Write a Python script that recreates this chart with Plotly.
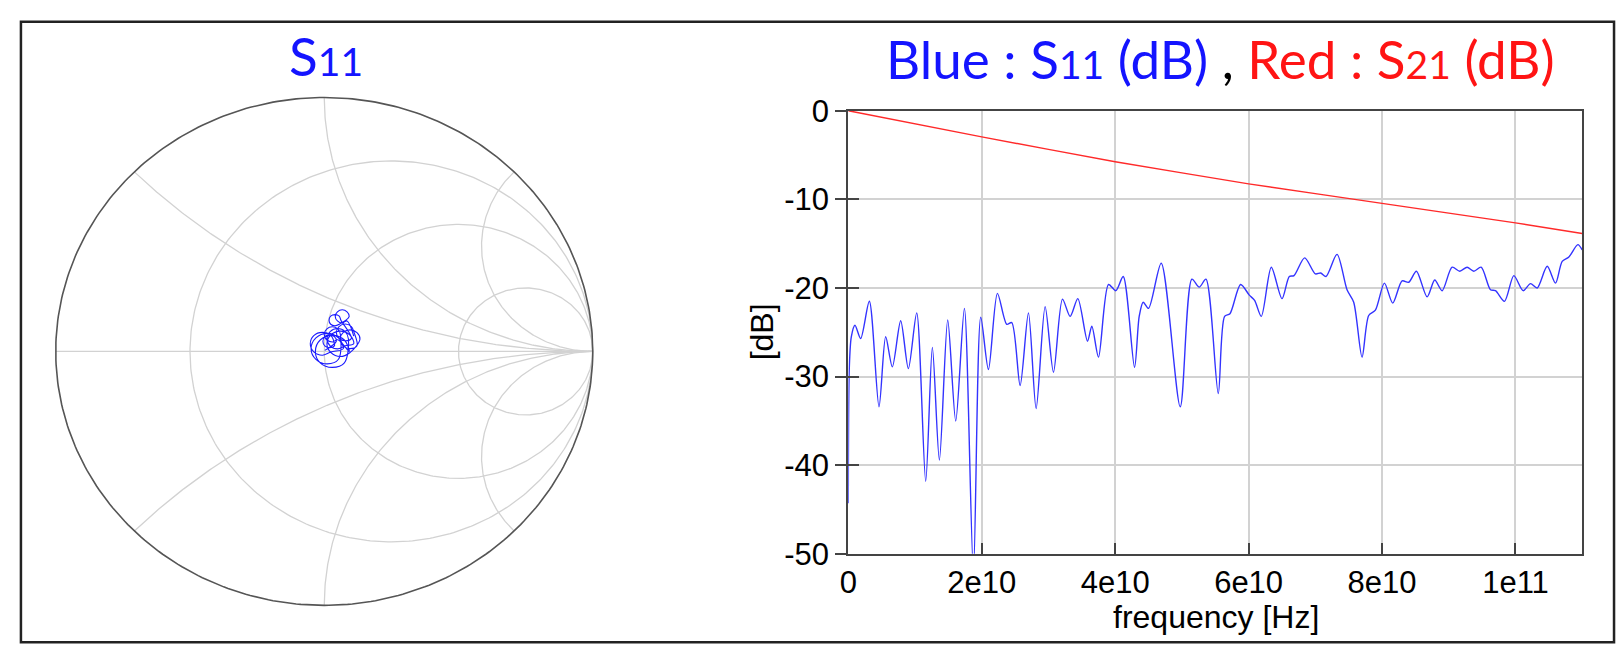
import numpy as np
import plotly.graph_objects as go

W, H = 1620, 665

# ---------------- data ----------------
# S11 magnitude (dB) vs frequency (GHz)
s11_f_ghz = [0.0, 0.15, 0.45, 1.0, 1.85, 3.15, 4.6, 5.6, 6.6, 7.85, 9.0, 10.25, 11.6, 12.6, 13.65,
             14.9, 16.1, 17.4, 18.75, 19.85, 21.0, 22.35, 23.75, 24.5, 25.75, 27.0, 28.15, 29.5,
             30.75, 32.1, 33.25, 34.4, 35.85, 36.5, 37.5, 39.0, 40.1, 41.2, 42.9, 43.6, 44.2, 45.0,
             46.9, 49.75, 51.5, 52.6, 53.6, 55.45, 56.4, 57.2, 58.8, 60.1, 60.9, 61.9, 63.4, 65.0,
             66.1, 66.8, 68.4, 70.0, 70.8, 71.6, 73.25, 74.75, 75.75, 77.0, 78.0, 79.0, 80.35, 81.6,
             83.0, 84.0, 85.15, 86.75, 87.9, 89.0, 90.5, 91.65, 92.75, 93.75, 94.85, 96.25, 97.0,
             98.35, 99.75, 101.15, 102.25, 103.25, 104.75, 106.0, 107.0, 108.0, 109.35, 110.0]
s11_db = [-44.3, -29.0, -25.5, -24.2, -25.7, -21.5, -33.4, -25.5, -28.9, -23.7, -29.1, -22.8, -41.8,
          -26.7, -39.4, -23.6, -35.0, -22.3, -52.0, -23.3, -29.2, -20.6, -24.1, -23.9, -31.0, -22.8,
          -33.6, -22.1, -29.5, -21.25, -23.2, -21.2, -26.0, -24.3, -27.8, -19.6, -20.3, -18.7, -28.95,
          -23.2, -21.6, -22.3, -17.2, -33.4, -19.0, -19.9, -19.0, -31.9, -23.2, -22.9, -19.6, -20.8,
          -21.4, -23.2, -17.65, -21.2, -18.7, -18.6, -16.6, -18.4, -18.3, -18.7, -16.2, -20.2, -21.6,
          -27.8, -23.1, -22.5, -19.45, -21.7, -19.2, -19.35, -18.1, -21.0, -19.1, -20.3, -17.65, -18.1,
          -17.65, -18.1, -17.65, -20.2, -20.3, -21.5, -18.6, -20.3, -19.5, -20.0, -17.55, -19.45,
          -17.0, -16.5, -15.1, -15.7]

# S21 magnitude (dB) vs frequency (GHz)
s21_f_ghz = [0, 10, 20, 30, 40, 50, 60, 70, 80, 90, 100, 110]
s21_db = [0.0, -1.5, -2.95, -4.35, -5.75, -7.0, -8.25, -9.35, -10.45, -11.55, -12.65, -13.85]

# S11 trajectory on the Smith chart (reflection coefficient, real / imaginary)
gamma_re = [0.002,
            0.045, 0.038, 0.02, 0.002, -0.005, 0.002, 0.02, 0.038,
            0.038, 0.025, -0.007, -0.039, -0.052, -0.039, -0.007, 0.025,
            0.071, 0.053, 0.011, -0.031, -0.049, -0.031, 0.011, 0.053,
            0.06, 0.051, 0.03, 0.009, 0.0, 0.009, 0.03, 0.051,
            0.093, 0.075, 0.03, -0.015, -0.033, -0.015, 0.03, 0.075,
            0.09, 0.078, 0.05, 0.022, 0.01, 0.022, 0.05, 0.078,
            0.11, 0.095, 0.06, 0.025, 0.01, 0.025, 0.06, 0.095,
            0.133, 0.122, 0.096, 0.07, 0.059, 0.07, 0.096, 0.122,
            0.111, 0.101, 0.078, 0.055, 0.045, 0.055, 0.078, 0.101,
            0.062, 0.056, 0.04, 0.024, 0.018, 0.024, 0.04, 0.056,
            0.093, 0.085, 0.067, 0.049, 0.041, 0.049, 0.067, 0.085,
            0.11]
gamma_im = [0.004,
            0.04, 0.058, 0.065, 0.058, 0.04, 0.022, 0.015, 0.022,
            0.03, 0.062, 0.075, 0.062, 0.03, -0.002, -0.015, -0.002,
            0.011, 0.053, 0.071, 0.053, 0.011, -0.031, -0.049, -0.031,
            0.067, 0.088, 0.097, 0.088, 0.067, 0.046, 0.037, 0.046,
            0.0, 0.045, 0.063, 0.045, 0.0, -0.045, -0.063, -0.045,
            0.05, 0.078, 0.09, 0.078, 0.05, 0.022, 0.01, 0.022,
            0.03, 0.065, 0.08, 0.065, 0.03, -0.005, -0.02, -0.005,
            0.048, 0.074, 0.085, 0.074, 0.048, 0.022, 0.011, 0.022,
            0.075, 0.098, 0.108, 0.098, 0.075, 0.052, 0.042, 0.052,
            0.123, 0.139, 0.145, 0.139, 0.123, 0.107, 0.101, 0.107,
            0.138, 0.156, 0.164, 0.156, 0.138, 0.12, 0.112, 0.12,
            0.06]

# Smith chart grid values
smith_r = [1 / 3, 1.0, 3.0]
smith_x = [np.sqrt(2) - 1, 1.0, np.sqrt(2) + 1]

x_tickvals = [0, 2e10, 4e10, 6e10, 8e10, 1e11]
x_ticktext = ["0", "2e10", "4e10", "6e10", "8e10", "1e11"]
y_tickvals = [-50, -40, -30, -20, -10, 0]
y_ticktext = ["-50", "-40", "-30", "-20", "-10", "0"]

# ---------------- figure ----------------
def px_x(p):
    return p / W


def px_y(p):
    return (H - p) / H


fig = go.Figure()

grid_col = "#d2d2d2"
t = np.linspace(0, 2 * np.pi, 361)
for r in smith_r:
    c, rad = r / (1 + r), 1 / (1 + r)
    fig.add_trace(go.Scatter(x=c + rad * np.cos(t), y=rad * np.sin(t), mode="lines",
                             line=dict(color=grid_col, width=1.3), xaxis="x2", yaxis="y2",
                             hoverinfo="skip", showlegend=False))
for xv in smith_x:
    px_ = (xv ** 2 - 1) / (xv ** 2 + 1)
    py_ = 2 * xv / (xv ** 2 + 1)
    a0 = np.arctan2(py_ - 1 / xv, px_ - 1) % (2 * np.pi)
    a = np.linspace(a0, 1.5 * np.pi, 200)
    ax_ = 1 + (1 / xv) * np.cos(a)
    ay_ = 1 / xv + (1 / xv) * np.sin(a)
    for sgn in (1, -1):
        fig.add_trace(go.Scatter(x=ax_, y=sgn * ay_, mode="lines",
                                 line=dict(color=grid_col, width=1.3), xaxis="x2", yaxis="y2",
                                 hoverinfo="skip", showlegend=False))
fig.add_trace(go.Scatter(x=[-1, 1], y=[0, 0], mode="lines", line=dict(color=grid_col, width=1.3),
                         xaxis="x2", yaxis="y2", hoverinfo="skip", showlegend=False))
fig.add_trace(go.Scatter(x=np.cos(t), y=np.sin(t), mode="lines", line=dict(color="#555555", width=1.6),
                         xaxis="x2", yaxis="y2", hoverinfo="skip", showlegend=False))
fig.add_trace(go.Scatter(x=gamma_re, y=gamma_im, mode="lines",
                         line=dict(color="#1a1aff", width=1.1, shape="spline", smoothing=1.0),
                         xaxis="x2", yaxis="y2", showlegend=False))

fig.add_trace(go.Scatter(x=[f * 1e9 for f in s21_f_ghz], y=s21_db, mode="lines",
                         line=dict(color="#ff2a2a", width=1.4), xaxis="x", yaxis="y", showlegend=False))
fig.add_trace(go.Scatter(x=[f * 1e9 for f in s11_f_ghz], y=s11_db, mode="lines",
                         line=dict(color="#3333ff", width=1.4, shape="spline", smoothing=0.8),
                         xaxis="x", yaxis="y", showlegend=False))
fig.add_trace(go.Scatter(x=[0], y=[0], mode="markers", marker=dict(opacity=0), xaxis="x", yaxis="y3",
                         hoverinfo="skip", showlegend=False))

axcol = "#444444"
tickfont = dict(family="Liberation Sans, Arial", size=31, color="black")
xdom = [px_x(844), px_x(1582)]
ydom = [px_y(566.7), px_y(99)]

fig.update_layout(
    width=W, height=H, autosize=False, margin=dict(l=0, r=0, t=0, b=0),
    paper_bgcolor="white", plot_bgcolor="white", showlegend=False,
    xaxis=dict(domain=xdom, range=[0, 1.1e11], anchor="y", tickvals=x_tickvals, ticktext=x_ticktext,
               ticks="inside", ticklen=11, tickwidth=1.5, tickcolor=axcol,
               showline=True, linecolor=axcol, linewidth=2, mirror=True,
               showgrid=True, gridcolor=grid_col, gridwidth=1.5, zeroline=False, tickfont=tickfont),
    yaxis=dict(domain=ydom, range=[-50, 0], anchor="x", tickvals=y_tickvals, ticktext=y_ticktext,
               ticks="outside", ticklen=11, tickwidth=1.5, tickcolor=axcol,
               showline=True, linecolor=axcol, linewidth=2, mirror=True,
               showgrid=True, gridcolor=grid_col, gridwidth=1.5, zeroline=False, tickfont=tickfont),
    yaxis3=dict(overlaying="y", anchor="x", range=[-50, 0], tickvals=y_tickvals, ticks="inside",
                ticklen=11, tickwidth=1.5, tickcolor=axcol, showticklabels=False, showgrid=False,
                showline=False, zeroline=False),
    xaxis2=dict(domain=[px_x(317 - 275.4), px_x(317 + 275.4)], range=[-1.02, 1.02], anchor="y2",
                visible=False),
    yaxis2=dict(domain=[px_y(353 + 273.4), px_y(353 - 273.4)], range=[-1.02, 1.02], anchor="x2",
                visible=False),
)

title_font = dict(family="Lato", size=53, color="black")
blue, red = "#1414ff", "#ff1414"
sub = "font-size:39px"
title_txt = (f"<span style='color:{blue}'>Blue : S</span><span style='color:{blue};{sub}'>11</span>"
             f"<span style='color:{blue}'> (dB)</span><span style='color:black'> , </span>"
             f"<span style='color:{red}'>Red : S</span><span style='color:{red};{sub}'>21</span>"
             f"<span style='color:{red}'> (dB)</span>")
fig.add_annotation(x=px_x(1218), y=px_y(44), xref="paper", yref="paper", text=title_txt,
                   showarrow=False, font=title_font, xanchor="center", yanchor="middle")
fig.add_annotation(x=px_x(319), y=px_y(41), xref="paper", yref="paper",
                   text=f"<span style='color:{blue}'>S</span><span style='color:{blue};{sub}'>11</span>",
                   showarrow=False, font=title_font, xanchor="center", yanchor="middle")
labfont = dict(family="Liberation Sans, Arial", size=32, color="black")
fig.add_annotation(x=px_x(1214), y=px_y(633), xref="paper", yref="paper", text="frequency [Hz]",
                   showarrow=False, font=labfont, xanchor="center", yanchor="middle")
fig.add_annotation(x=px_x(757), y=px_y(332), xref="paper", yref="paper", text="[dB]", textangle=-90,
                   showarrow=False, font=labfont, xanchor="center", yanchor="middle")
fig.add_shape(type="rect", xref="paper", yref="paper", x0=px_x(12), x1=px_x(1614), y0=px_y(660),
              y1=px_y(5), line=dict(color="#222222", width=2.5), fillcolor="rgba(0,0,0,0)")

fig.write_html("out.html", config={"displayModeBar": False, "responsive": False},
               post_script="document.body.style.margin='0';document.body.style.overflow='hidden';")
